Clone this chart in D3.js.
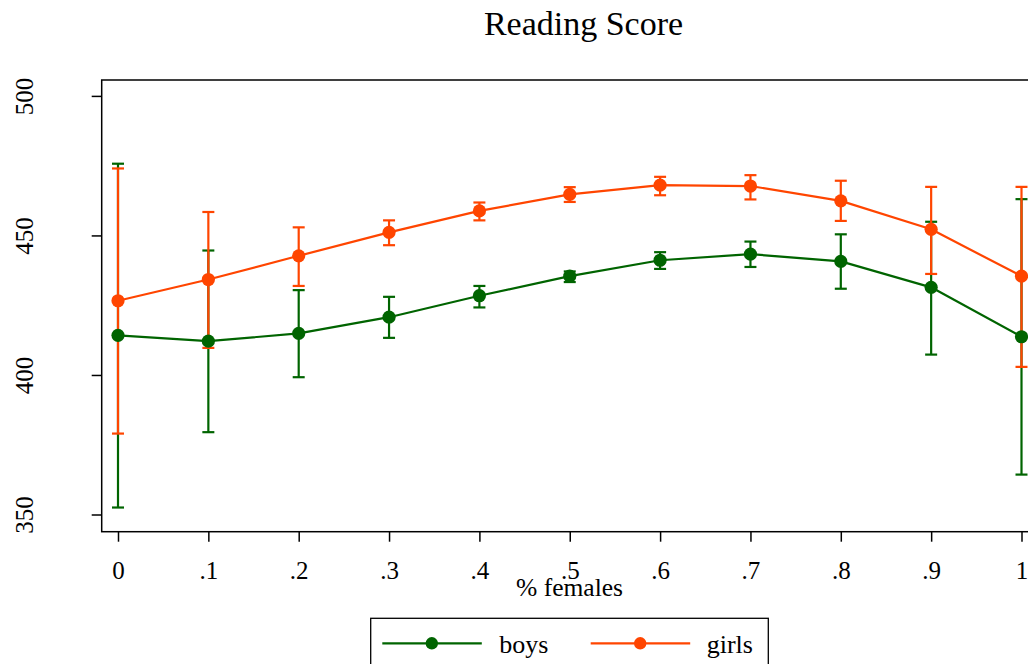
<!DOCTYPE html>
<html>
<head>
<meta charset="utf-8">
<script src="https://cdn.jsdelivr.net/npm/d3@7"></script>
<style>
  html, body { margin: 0; padding: 0; background: #fff; overflow: hidden; }
  svg { display: block; }
  text { font-family: "Liberation Serif", "DejaVu Serif", serif; fill: #000; }
</style>
</head>
<body>
<script>
// Share of female students in the class
const pctFemale = [0, 0.1, 0.2, 0.3, 0.4, 0.5, 0.6, 0.7, 0.8, 0.9, 1];
const xTickLabels = ["0", ".1", ".2", ".3", ".4", ".5", ".6", ".7", ".8", ".9", "1"];
const yTicks = [350, 400, 450, 500];

// Mean reading score with confidence bounds
const boysMean = [414.2, 412.1, 414.9, 420.7, 428.4, 435.4, 441.1, 443.3, 440.7, 431.4, 413.7];
const boysLo   = [352.5, 379.5, 399.2, 413.3, 424.2, 433.3, 438.0, 438.7, 430.9, 407.3, 364.3];
const boysHi   = [475.7, 444.6, 430.4, 428.0, 431.9, 437.1, 444.0, 447.8, 450.4, 454.9, 463.0];

const girlsMean = [426.6, 434.2, 442.7, 451.1, 458.8, 464.7, 468.0, 467.7, 462.4, 452.2, 435.4];
const girlsLo   = [379.0, 409.7, 431.9, 446.5, 455.4, 462.0, 464.4, 462.9, 455.2, 436.2, 402.9];
const girlsHi   = [474.0, 458.4, 452.9, 455.4, 461.8, 467.3, 471.0, 471.6, 469.6, 467.4, 467.4];

const seriesNames = ["boys", "girls"];
const seriesColors = ["#006400", "#ff4500"];

const W = 1028, H = 664;
const frame = { left: 101.7, right: 1038, top: 80, bottom: 531.7 };

const svg = d3.select("body").append("svg")
  .attr("width", W).attr("height", H);

const x = d3.scaleLinear().domain([0, 1]).range([118, 1021.5]);
const y = d3.scaleLinear().domain([350, 500]).range([514.5, 95.9]);

const series = [
  { name: seriesNames[0], color: seriesColors[0],
    pts: pctFemale.map((p, i) => ({ p, m: boysMean[i], lo: boysLo[i], hi: boysHi[i] })) },
  { name: seriesNames[1], color: seriesColors[1],
    pts: pctFemale.map((p, i) => ({ p, m: girlsMean[i], lo: girlsLo[i], hi: girlsHi[i] })) }
];

// Title
svg.append("text")
  .attr("x", 583.5).attr("y", 35)
  .attr("text-anchor", "middle")
  .style("font-size", "34px")
  .text("Reading Score");

// Plot frame
svg.append("rect")
  .attr("x", frame.left).attr("y", frame.top)
  .attr("width", frame.right - frame.left)
  .attr("height", frame.bottom - frame.top)
  .attr("fill", "none").attr("stroke", "#000").attr("stroke-width", 1.5);

// Y axis
const yAxis = svg.append("g")
  .attr("transform", `translate(${frame.left},0)`)
  .call(d3.axisLeft(y).tickValues(yTicks).tickSize(10).tickSizeOuter(0).tickFormat(d3.format("d")));
yAxis.select(".domain").remove();
yAxis.selectAll(".tick line").attr("stroke", "#000").attr("stroke-width", 1.5);
yAxis.selectAll(".tick text")
  .attr("x", 0).attr("y", 0).attr("dy", null)
  .attr("text-anchor", "middle")
  .attr("transform", "translate(-69,0) rotate(-90)")
  .style("font-size", "25px")
  .style("font-family", "'Liberation Serif', serif");

// X axis
const xAxis = svg.append("g")
  .attr("transform", `translate(0,${frame.bottom})`)
  .call(d3.axisBottom(x).tickValues(pctFemale).tickSize(10).tickSizeOuter(0)
    .tickFormat((d, i) => xTickLabels[i]));
xAxis.select(".domain").remove();
xAxis.selectAll(".tick line").attr("stroke", "#000").attr("stroke-width", 1.5);
xAxis.selectAll(".tick text")
  .attr("y", 47).attr("dy", null)
  .style("font-size", "25px")
  .style("font-family", "'Liberation Serif', serif");

svg.append("text")
  .attr("x", 569.5).attr("y", 596)
  .attr("text-anchor", "middle")
  .style("font-size", "25.5px")
  .text("% females");

// Confidence interval caps
const capHalf = 6;
series.forEach(s => {
  const g = svg.append("g").attr("stroke", s.color).attr("stroke-width", 2.2).attr("fill", "none");
  s.pts.forEach(d => {
    g.append("line").attr("x1", x(d.p)).attr("x2", x(d.p)).attr("y1", y(d.lo)).attr("y2", y(d.hi));
    g.append("line").attr("x1", x(d.p) - capHalf).attr("x2", x(d.p) + capHalf).attr("y1", y(d.lo)).attr("y2", y(d.lo));
    g.append("line").attr("x1", x(d.p) - capHalf).attr("x2", x(d.p) + capHalf).attr("y1", y(d.hi)).attr("y2", y(d.hi));
  });
});

// Connected means
const line = d3.line().x(d => x(d.p)).y(d => y(d.m));
series.forEach(s => {
  svg.append("path").datum(s.pts)
    .attr("d", line)
    .attr("fill", "none").attr("stroke", s.color).attr("stroke-width", 2.2)
    .attr("stroke-linejoin", "round");
  svg.append("g").selectAll("circle").data(s.pts).join("circle")
    .attr("cx", d => x(d.p)).attr("cy", d => y(d.m)).attr("r", 6.6)
    .attr("fill", s.color);
});

// Legend
const legend = svg.append("g");
legend.append("rect")
  .attr("x", 370.7).attr("y", 618.3).attr("width", 397.6).attr("height", 70)
  .attr("fill", "#fff").attr("stroke", "#000").attr("stroke-width", 1.3);
const legendItems = [
  { x0: 382.3, text: 499.3 },
  { x0: 590.7, text: 706.7 }
];
series.forEach((s, i) => {
  const it = legendItems[i];
  legend.append("line")
    .attr("x1", it.x0).attr("x2", it.x0 + 99.5).attr("y1", 643.3).attr("y2", 643.3)
    .attr("stroke", s.color).attr("stroke-width", 2.2);
  legend.append("circle")
    .attr("cx", it.x0 + 49.5).attr("cy", 643.3).attr("r", 6.2).attr("fill", s.color);
  legend.append("text")
    .attr("x", it.text).attr("y", 653)
    .style("font-size", "26px")
    .text(s.name);
});
</script>
</body>
</html>
